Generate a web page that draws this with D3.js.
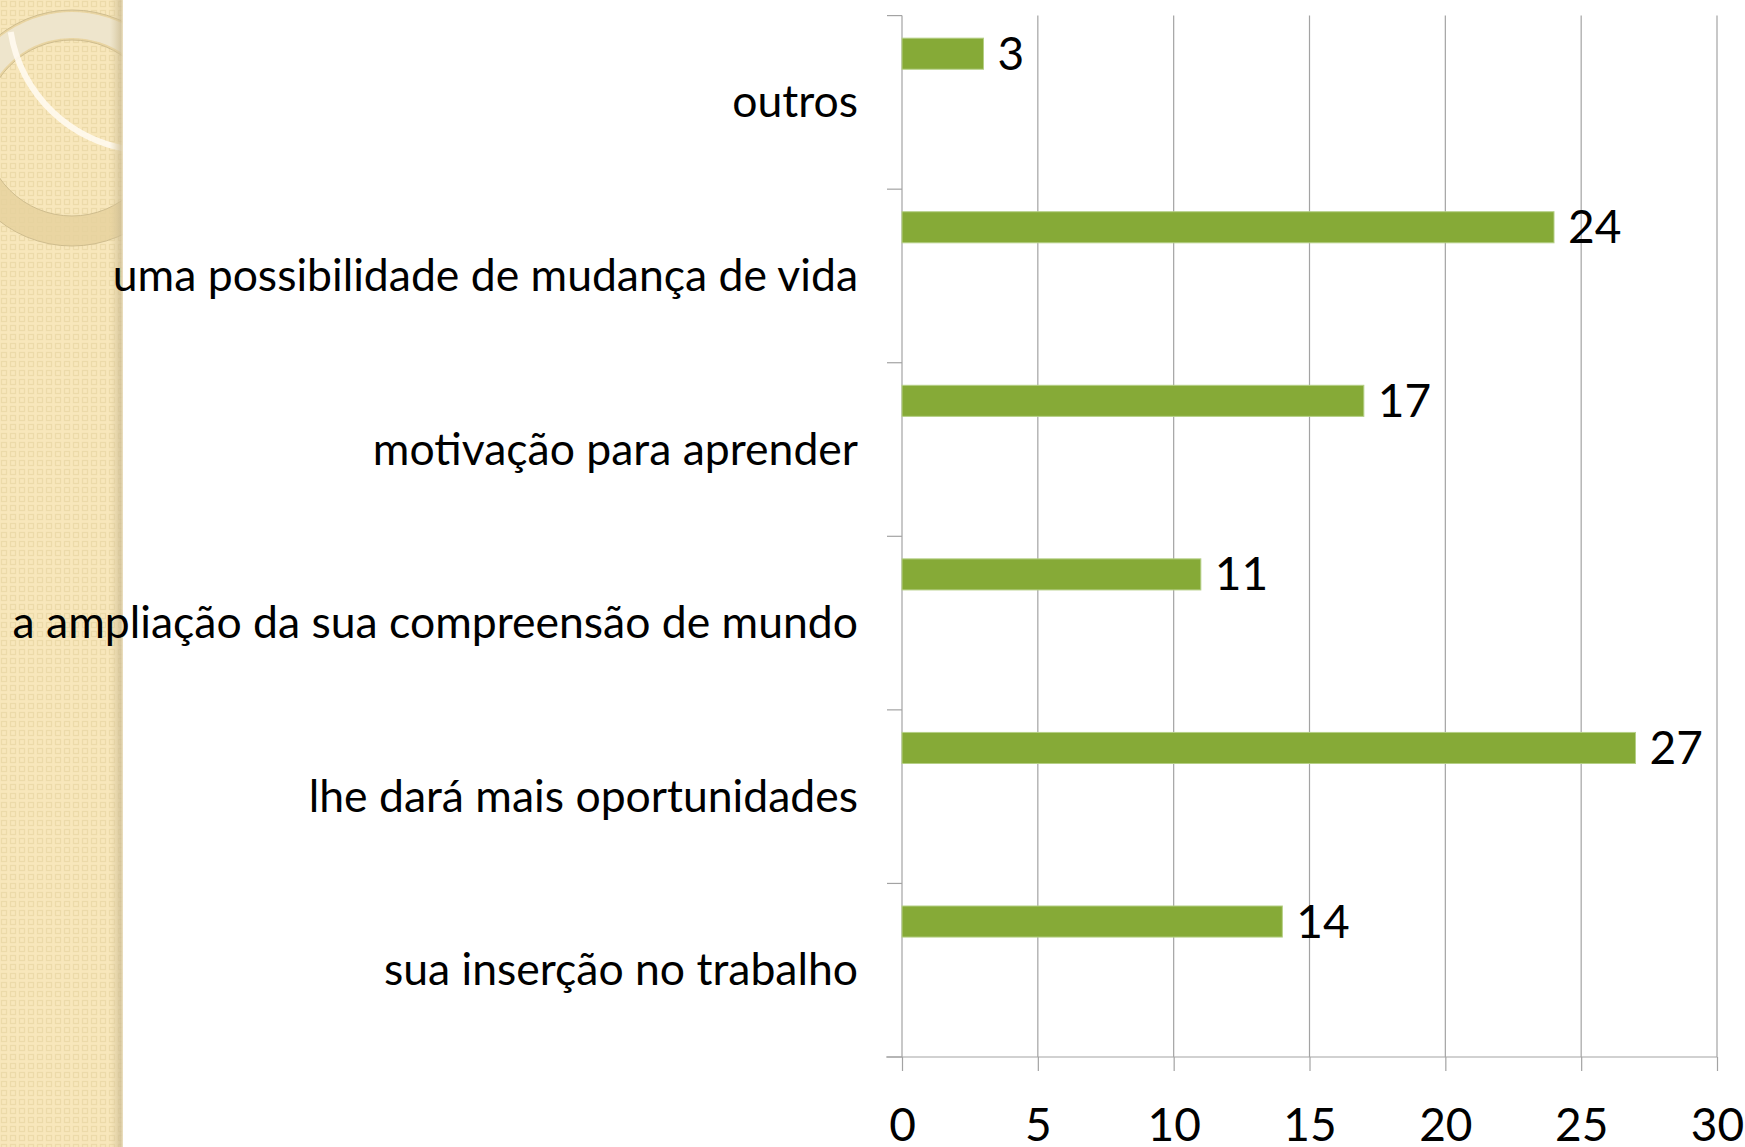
<!DOCTYPE html>
<html>
<head>
<meta charset="utf-8">
<script src="https://cdnjs.cloudflare.com/ajax/libs/d3/7.8.5/d3.min.js"></script>
<style>
  body { margin: 0; background: #ffffff; }
  svg { display: block; }
</style>
</head>
<body>
<script>
'use strict';

// categories go bottom -> top (like the original bar chart)
const categories = [
  "sua inserção no trabalho",
  "lhe dará mais oportunidades",
  "a ampliação da sua compreensão de mundo",
  "motivação para aprender",
  "uma possibilidade de mudança de vida",
  "outros"
];
const values = [14, 27, 11, 17, 24, 3];
const xTicks = [0, 5, 10, 15, 20, 25, 30];

(function () {

  let svg = "";
  const width = 1745;
  const height = 1147;
  const fontFam = "Lato, 'Open Sans', sans-serif";

  window.onload = function () {
    svg = d3.select("body")
      .append("svg")
      .attr("width", width)
      .attr("height", height);

    drawBackground();
    drawChart();
  }

  // beige patterned strip on the left with the ring ornament
  function drawBackground() {
    let defs = svg.append("defs");

    let pat = defs.append("pattern")
      .attr("id", "weave")
      .attr("width", 9)
      .attr("height", 9)
      .attr("patternUnits", "userSpaceOnUse");
    pat.append("rect").attr("width", 9).attr("height", 9).attr("fill", "#f8e7bb");
    pat.append("rect")
      .attr("x", 1.5).attr("y", 1.5).attr("width", 5).attr("height", 5)
      .attr("fill", "none").attr("stroke", "#ecdaa9").attr("stroke-width", 1.2);

    let shade = defs.append("linearGradient").attr("id", "edge");
    shade.append("stop").attr("offset", "0%").attr("stop-color", "#d9c89c").attr("stop-opacity", 0);
    shade.append("stop").attr("offset", "80%").attr("stop-color", "#cbbb92").attr("stop-opacity", 0.7);
    shade.append("stop").attr("offset", "100%").attr("stop-color", "#efe3c4").attr("stop-opacity", 1);

    defs.append("clipPath").attr("id", "stripClip")
      .append("rect").attr("width", 123).attr("height", height);

    svg.append("rect")
      .attr("width", 123).attr("height", height)
      .attr("fill", "url(#weave)");

    // rings
    let rings = svg.append("g").attr("clip-path", "url(#stripClip)");
    let arc = d3.arc();
    rings.append("path")
      .attr("transform", "translate(72,128)")
      .attr("d", arc({ innerRadius: 88, outerRadius: 118, startAngle: 0, endAngle: 2 * Math.PI }))
      .attr("fill", "#e6d19c")
      .attr("fill-opacity", 0.8)
      .attr("stroke", "#cfbd8e")
      .attr("stroke-width", 1);
    rings.append("path")
      .attr("transform", "translate(72,128)")
      .attr("d", arc({ innerRadius: 90, outerRadius: 116, startAngle: -Math.PI / 2, endAngle: Math.PI / 3 }))
      .attr("fill", "#efe7d3")
      .attr("fill-opacity", 0.85);
    rings.append("path")
      .attr("transform", "translate(150,10)")
      .attr("d", arc({ innerRadius: 138, outerRadius: 144, startAngle: Math.PI * 0.62, endAngle: Math.PI * 1.45 }))
      .attr("fill", "#fffaf0")
      .attr("fill-opacity", 0.9);

    svg.append("rect")
      .attr("x", 110).attr("width", 13).attr("height", height)
      .attr("fill", "url(#edge)");
  }

  function drawChart() {
    // scales
    let xScale = d3.scaleLinear()
      .domain([0, 30])
      .range([902, 1717]);

    let yScale = d3.scaleBand()
      .domain(categories.slice().reverse())
      .range([15.6, 1057])
      .padding(0);

    let bw = yScale.bandwidth();
    let lineColor = "#a3a3a3";

    // vertical gridlines
    svg.append("g")
      .selectAll("line")
      .data(xTicks.slice(1))
      .enter()
      .append("line")
      .attr("x1", (d) => xScale(d))
      .attr("x2", (d) => xScale(d))
      .attr("y1", yScale.range()[0])
      .attr("y2", yScale.range()[1])
      .attr("stroke", lineColor)
      .attr("stroke-width", 1.2);

    // x axis at bottom
    let xAxis = d3.axisBottom(xScale)
      .tickValues(xTicks)
      .tickSize(14)
      .tickPadding(45)
      .tickFormat(d3.format("d"));
    let gx = svg.append("g")
      .attr("transform", "translate(0," + yScale.range()[1] + ")")
      .call(xAxis);
    gx.select(".domain").remove();
    gx.append("line")
      .attr("x1", 886).attr("x2", xScale(30))
      .attr("stroke", lineColor).attr("stroke-width", 1.2);
    gx.selectAll(".tick line").attr("stroke", lineColor).attr("stroke-width", 1.2);
    gx.selectAll(".tick text")
      .attr("fill", "#000")
      .style("font-family", fontFam)
      .style("font-size", "46px")
      .attr("dy", "0.55em");

    // y axis with category boundaries as ticks
    let boundaries = d3.range(categories.length + 1).map((i) => yScale.range()[0] + i * bw);
    svg.append("line")
      .attr("x1", xScale(0)).attr("x2", xScale(0))
      .attr("y1", yScale.range()[0]).attr("y2", yScale.range()[1])
      .attr("stroke", lineColor).attr("stroke-width", 1.2);
    svg.append("g")
      .selectAll("line")
      .data(boundaries)
      .enter()
      .append("line")
      .attr("x1", xScale(0) - 15)
      .attr("x2", xScale(0))
      .attr("y1", (d) => d)
      .attr("y2", (d) => d)
      .attr("stroke", lineColor)
      .attr("stroke-width", 1.2);

    // category labels
    svg.append("g")
      .selectAll("text")
      .data(categories)
      .enter()
      .append("text")
      .attr("x", 858)
      .attr("y", (d) => yScale(d) + bw / 2 + 15)
      .attr("text-anchor", "end")
      .style("font-family", fontFam)
      .style("font-size", "44.5px")
      .attr("fill", "#000")
      .text((d) => d);

    // bars (sit in the upper part of each band)
    let barTop = bw * 0.13;
    let barH = bw * 0.179;
    svg.append("g")
      .selectAll("rect")
      .data(categories)
      .enter()
      .append("rect")
      .attr("x", xScale(0))
      .attr("y", (d) => yScale(d) + barTop)
      .attr("width", (d, i) => xScale(values[i]) - xScale(0))
      .attr("height", barH)
      .attr("fill", "#86aa37")
      .attr("stroke", "#b5cf86")
      .attr("stroke-width", 1);

    // value labels
    svg.append("g")
      .selectAll("text")
      .data(categories)
      .enter()
      .append("text")
      .attr("x", (d, i) => xScale(values[i]) + 14)
      .attr("y", (d) => yScale(d) + barTop + barH / 2 + 16)
      .style("font-family", fontFam)
      .style("font-size", "46px")
      .attr("fill", "#000")
      .text((d, i) => values[i]);
  }

})();
</script>
</body>
</html>
